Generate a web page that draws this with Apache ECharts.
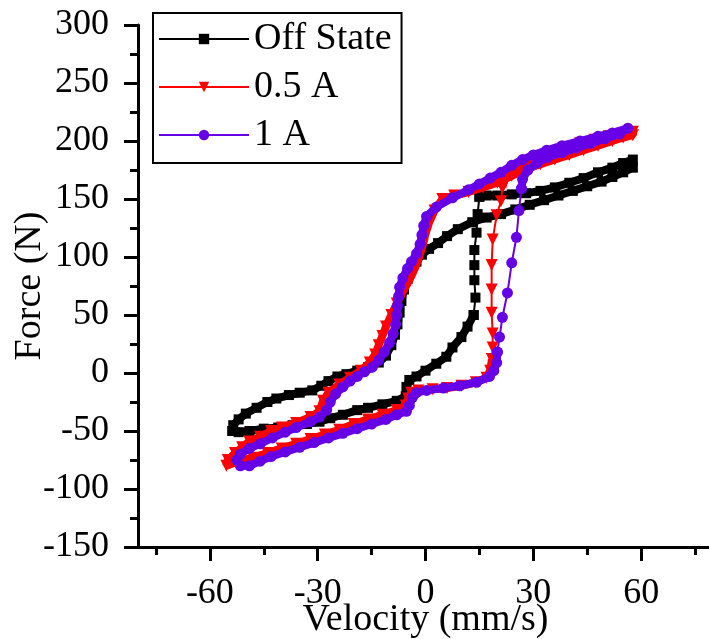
<!DOCTYPE html>
<html>
<head>
<meta charset="utf-8">
<script src="https://cdn.jsdelivr.net/npm/echarts@6/dist/echarts.min.js"></script>
<style>html,body{margin:0;padding:0;background:#fff}#c{width:709px;height:639px}</style>
</head>
<body>
<div id="c"></div>
<script>
// ---- data (velocity mm/s, force N) ----
const seriesNames = ['Off State', '0.5 A', '1 A'];
const xMajorTicks = [-60, -30, 0, 30, 60];
const xMinorTicks = [-75, -45, -15, 15, 45, 75];

const offBand = [[13.4,50],[11.7,40],[10,31],[7.5,22],[5.8,14],[3,8],[0,2],[-2.5,-3],[-4.5,-6],[-5.3,-12],[-5.5,-20],[-8,-24],[-12,-27],[-16,-30],[-19,-32],[-23,-36],[-26.5,-39],[-29.5,-42],[-33,-44],[-37,-45],[-41,-47],[-45,-48],[-49,-50],[-52,-51],[-53.8,-50],[-53.5,-45],[-52,-40],[-50,-35],[-47,-30],[-44,-25],[-41.5,-22],[-38,-19],[-35,-17],[-31.5,-15],[-29,-11],[-27,-7],[-24.5,-3],[-22,-1],[-19,2],[-16,5],[-13,9],[-11,15],[-9.5,24],[-8.5,33],[-7.8,42],[-7.2,52],[-6.7,62],[-6,72],[-5,81],[-4,89],[-2.5,96],[-1,102],[1,107],[3.5,112],[6,118],[9,124],[13,130],[17,134],[21,137],[25,141],[29,145],[33,149],[37,153],[41,157],[45,161],[49,165],[52,169],[55,173],[57.7,177],[57.7,184],[55,181],[52,177],[48,173],[44,168],[40,164],[36,160],[32,157],[28,155],[24,154],[20,153],[17,153],[15,152]];
const offJump = [[15,152],[14.5,137],[14.2,121],[13.6,106],[13.6,93],[13.6,80],[13.9,65],[13.4,50]];

const halfBand = [[18.5,12],[18,2],[17,-4],[14,-8],[10,-11],[6,-13],[2,-14],[-2,-15],[-4,-17],[-4.8,-22],[-5.5,-28],[-8,-32],[-12,-36],[-16,-40],[-20,-44],[-24,-49],[-28,-53],[-32,-57],[-36,-61],[-40,-65],[-44,-69],[-48,-73],[-52,-76],[-55.4,-80],[-55,-75],[-53,-69],[-51,-64],[-49,-59],[-46,-55],[-43,-50],[-40,-47],[-36,-43],[-32,-38],[-29.5,-33],[-28.5,-24],[-27,-17],[-24,-10],[-21,-4],[-18,2],[-15.5,9],[-14,16],[-13,24],[-12,32],[-11,40],[-9.5,50],[-8,60],[-6.3,70],[-4.5,80],[-3,90],[-1.8,100],[-0.8,110],[0,120],[1,130],[2.5,140],[4.7,150],[8,153],[12,156],[16,160],[20,164],[24,170],[28,176],[32,180],[36,184],[40,188],[44,192],[48,196],[52,200],[55,203],[57.7,205],[57.7,208],[55,207],[51,204],[47,201],[43,198],[39,194],[35,190],[31,185],[27,180],[24,175],[22,168],[21.4,160]];
const halfJump = [[21.4,160],[21,148],[19.8,136],[18.7,115],[18.4,93],[18.4,72],[18.4,52],[18.7,34],[18.7,22],[18.5,12]];

const oneBand = [[20,18],[19.8,9],[19,2],[17.8,-3],[14.2,-8],[9.5,-11],[5,-13],[0.3,-15],[-2.5,-17],[-3.6,-21],[-4.5,-28],[-5.3,-33],[-8,-36],[-11,-40],[-15,-44],[-19,-48],[-23,-52],[-27,-56],[-31,-60],[-35,-64],[-39,-68],[-43,-72],[-46,-76],[-49,-80],[-51.5,-80],[-52.5,-75],[-51.5,-70],[-49,-65],[-46,-61],[-42.6,-56],[-39,-51],[-36,-47],[-32,-42],[-29.5,-38],[-27.5,-32],[-26.5,-25],[-25,-18],[-23,-12],[-21,-7],[-19,-3],[-17,1],[-14.8,5],[-13,11],[-11.5,18],[-10,26],[-9,34],[-8.3,42],[-8,50],[-7.8,58],[-7.5,66],[-7.2,74],[-6.3,82],[-5,90],[-3.9,96],[-2.5,103],[-1.5,111],[-1,119],[-0.5,127],[0.3,135],[3,143],[7.5,151],[12,158],[15,163],[18,168],[21,173],[24,179],[27,184],[30,188],[33.7,192],[38,196],[43,200],[48,204],[52,207],[56.3,211],[54,206],[50,202],[46,198],[42,194],[38,190],[34,186],[31,181],[28.5,175],[27,167],[26.7,159]];
const oneJump = [[26.7,159],[26,140],[25.3,117],[24,95],[22.8,69],[21.4,48],[20.6,31],[20,18]];

const FONT = "'Liberation Serif','Times New Roman',serif";
const colors = ['#000000', '#ff0000', '#6600e6'];
const symbols = ['rect', 'triangle', 'circle'];
const rotates = [0, 180, 0];
const sizes = [10, 12, 11];
const bands = [offBand, halfBand, oneBand];
const jumps = [offJump, halfJump, oneJump];

const series = [];
for (let i = 0; i < 3; i++) {
  series.push({
    name: seriesNames[i], type: 'line', data: jumps[i], z: 2 + i,
    symbol: symbols[i], symbolRotate: rotates[i], symbolSize: sizes[i], showAllSymbol: true,
    lineStyle: { color: colors[i], width: 2 }, itemStyle: { color: colors[i] },
    animation: false
  });
}
for (let i = 0; i < 3; i++) {
  series.push({
    name: seriesNames[i], type: 'line', data: bands[i], z: 2 + i,
    symbol: symbols[i], symbolRotate: rotates[i], symbolSize: sizes[i], showAllSymbol: true,
    lineStyle: { color: colors[i], width: 8 }, itemStyle: { color: colors[i] },
    animation: false
  });
}

const chart = echarts.init(document.getElementById('c'), null, { renderer: 'canvas' });
chart.setOption({
  animation: false,
  backgroundColor: '#fff',
  grid: { left: 138, right: -4, top: 25, bottom: 92, containLabel: false, outerBoundsMode: 'none' },
  legend: {
    data: seriesNames, orient: 'vertical', left: 153, top: 13,
    itemWidth: 90, itemHeight: 13, itemGap: 10,
    padding: [7, 10, 9, 5],
    borderColor: '#000', borderWidth: 2, backgroundColor: '#fff',
    textStyle: { fontFamily: FONT, fontSize: 38, color: '#000' }
  },
  xAxis: [{
    type: 'value', min: -80, max: 80, position: 'bottom',
    name: 'Velocity (mm/s)', nameLocation: 'middle', nameGap: 54, nameMoveOverlap: false,
    nameTextStyle: { fontFamily: FONT, fontSize: 38, color: '#000' },
    axisLine: { show: true, onZero: false, lineStyle: { color: '#000', width: 3 } },
    axisTick: { show: true, customValues: xMajorTicks, length: 14, lineStyle: { color: '#000', width: 3 } },
    axisLabel: { customValues: xMajorTicks, margin: 29, fontFamily: FONT, fontSize: 36, color: '#000' },
    splitLine: { show: false }
  }, {
    type: 'value', min: -80, max: 80, position: 'bottom',
    axisLine: { show: false, onZero: false },
    axisTick: { show: true, customValues: xMinorTicks, length: 8, lineStyle: { color: '#000', width: 3 } },
    axisLabel: { show: false },
    splitLine: { show: false }
  }],
  yAxis: {
    type: 'value', min: -150, max: 300, interval: 50,
    name: 'Force (N)', nameLocation: 'middle', nameGap: 89, nameMoveOverlap: false,
    nameTextStyle: { fontFamily: FONT, fontSize: 38, color: '#000' },
    axisLine: { show: true, onZero: false, lineStyle: { color: '#000', width: 3 } },
    axisTick: { show: true, length: 14, lineStyle: { color: '#000', width: 3 } },
    minorTick: { show: true, splitNumber: 2, length: 8, lineStyle: { color: '#000', width: 3 } },
    axisLabel: { margin: 29, fontFamily: FONT, fontSize: 36, color: '#000' },
    splitLine: { show: false }
  },
  series: series
});
</script>
</body>
</html>
